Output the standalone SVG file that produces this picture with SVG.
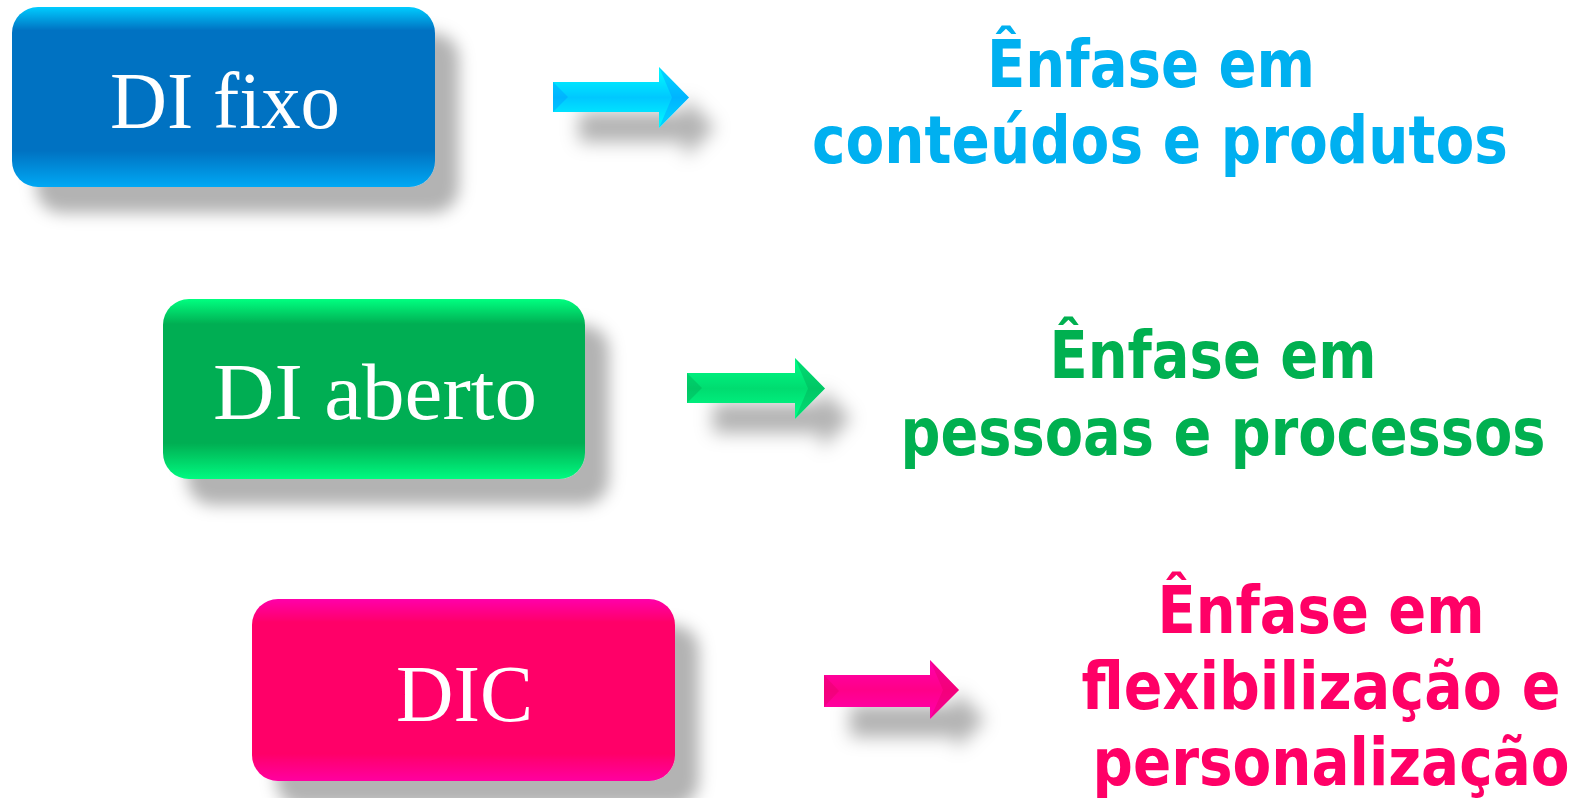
<svg xmlns="http://www.w3.org/2000/svg" width="1576" height="798" viewBox="0 0 1576 798">
<defs>
<filter id="boxShadow" x="-20%" y="-30%" width="150%" height="170%">
<feGaussianBlur in="SourceAlpha" stdDeviation="8"/>
<feOffset dx="24" dy="26" result="b"/>
<feFlood flood-color="#000" flood-opacity="0.3"/>
<feComposite in2="b" operator="in" result="s"/>
<feMerge><feMergeNode in="s"/><feMergeNode in="SourceGraphic"/></feMerge>
</filter>
<filter id="arrowShadow" x="-30%" y="-60%" width="180%" height="260%">
<feGaussianBlur in="SourceAlpha" stdDeviation="9"/>
<feOffset dx="26" dy="30" result="b"/>
<feFlood flood-color="#000" flood-opacity="0.3"/>
<feComposite in2="b" operator="in" result="s"/>
<feMerge><feMergeNode in="s"/><feMergeNode in="SourceGraphic"/></feMerge>
</filter>
<linearGradient id="gBlue" x1="0" y1="0" x2="0" y2="1">
<stop offset="0" stop-color="#00CCFF"/><stop offset="0.13" stop-color="#0072C2"/>
<stop offset="0.8" stop-color="#0072C2"/><stop offset="1" stop-color="#00A8F4"/>
</linearGradient>
<linearGradient id="gGreen" x1="0" y1="0" x2="0" y2="1">
<stop offset="0" stop-color="#00FF80"/><stop offset="0.14" stop-color="#00AE52"/>
<stop offset="0.8" stop-color="#00AE52"/><stop offset="1" stop-color="#00FA80"/>
</linearGradient>
<linearGradient id="gPink" x1="0" y1="0" x2="0" y2="1">
<stop offset="0" stop-color="#FF00AA"/><stop offset="0.13" stop-color="#FF0068"/>
<stop offset="0.85" stop-color="#FF0068"/><stop offset="1" stop-color="#FF00A0"/>
</linearGradient>
<linearGradient id="aBlue" x1="0" y1="0" x2="0" y2="1">
<stop offset="0" stop-color="#00FFFF"/><stop offset="0.5" stop-color="#00C8FF"/><stop offset="1" stop-color="#00FFFF"/>
</linearGradient>
<linearGradient id="aGreen" x1="0" y1="0" x2="0" y2="1">
<stop offset="0" stop-color="#00FF88"/><stop offset="0.5" stop-color="#00DC70"/><stop offset="1" stop-color="#00FF88"/>
</linearGradient>
<linearGradient id="aPink" x1="0" y1="0" x2="0" y2="1">
<stop offset="0" stop-color="#FF00B0"/><stop offset="0.5" stop-color="#FF0088"/><stop offset="1" stop-color="#FF00B0"/>
</linearGradient>
</defs>
<style>
.box{filter:url(#boxShadow)}
.boxText{font-family:"Liberation Serif","Times New Roman",serif;font-size:80px;fill:#FFFFFF;text-anchor:middle}
.lbl{font-family:"DejaVu Sans",Verdana,sans-serif;font-weight:bold;font-size:56px;text-anchor:middle}
.arrow{filter:url(#arrowShadow)}
.bevel{opacity:0.35}
</style>
<rect width="1576" height="798" fill="#FFFFFF"/>

<g id="connectors">
<g class="arrow" id="arrow1">
<polygon points="553,82 659,82 659,67 689,97.5 659,128 659,112 553,112" fill="url(#aBlue)"/>
<polygon points="553,82 568,97 553,112" fill="#0090FF" class="bevel"/>
<polygon points="659,67 672,97.5 659,128 689,97.5" fill="#0090FF" class="bevel"/>
</g>
<g class="arrow" id="arrow2">
<polygon points="687,373 795,373 795,358 825,388.5 795,419 795,403 687,403" fill="url(#aGreen)"/>
<polygon points="687,373 702,388 687,403" fill="#00A050" class="bevel"/>
<polygon points="795,358 808,388.5 795,419 825,388.5" fill="#00A050" class="bevel"/>
</g>
<g class="arrow" id="arrow3">
<polygon points="824,675 930,675 930,660 959,690 930,719 930,707 824,707" fill="url(#aPink)"/>
<polygon points="824,675 839,691 824,707" fill="#E00060" class="bevel"/>
<polygon points="930,660 943,690 930,719 959,690" fill="#E00060" class="bevel"/>
</g>
</g>

<g id="node-di-fixo" class="box">
<rect x="12" y="7" width="423" height="180" rx="26" fill="url(#gBlue)"/>
<text class="boxText" x="225" y="128" textLength="230" lengthAdjust="spacingAndGlyphs">DI fixo</text>
</g>
<g id="node-di-aberto" class="box">
<rect x="163" y="299" width="422" height="180" rx="26" fill="url(#gGreen)"/>
<text class="boxText" x="375" y="419" textLength="324" lengthAdjust="spacingAndGlyphs">DI aberto</text>
</g>
<g id="node-dic" class="box">
<rect x="252" y="599" width="423" height="182" rx="26" fill="url(#gPink)"/>
<text class="boxText" x="464.5" y="721" textLength="137" lengthAdjust="spacingAndGlyphs">DIC</text>
</g>

<g id="label-fixo" fill="#00B0F0">
<text class="lbl" transform="translate(1151,87) scale(1,1.16)" textLength="328" lengthAdjust="spacingAndGlyphs">Ênfase em</text>
<text class="lbl" transform="translate(1160,163) scale(1,1.16)" textLength="696" lengthAdjust="spacingAndGlyphs">conteúdos e produtos</text>
</g>
<g id="label-aberto" fill="#00B050">
<text class="lbl" transform="translate(1213,378) scale(1,1.16)" textLength="327" lengthAdjust="spacingAndGlyphs">Ênfase em</text>
<text class="lbl" transform="translate(1223,455) scale(1,1.16)" textLength="645" lengthAdjust="spacingAndGlyphs">pessoas e processos</text>
</g>
<g id="label-dic" fill="#FF0066">
<text class="lbl" transform="translate(1321,633) scale(1,1.16)" textLength="327" lengthAdjust="spacingAndGlyphs">Ênfase em</text>
<text class="lbl" transform="translate(1321,709) scale(1,1.16)" textLength="479" lengthAdjust="spacingAndGlyphs">flexibilização e</text>
<text class="lbl" transform="translate(1331,785) scale(1,1.16)" textLength="477" lengthAdjust="spacingAndGlyphs">personalização</text>
</g>
</svg>
